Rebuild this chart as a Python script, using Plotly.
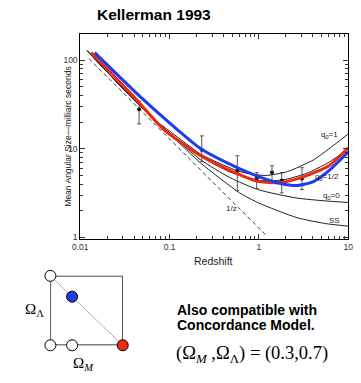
import plotly.graph_objects as go

# ---------------- data ----------------
# overlay model curves (redshift, mean angular size in milliarcsec)
red_z = [0.0132, 0.0422, 0.0847, 0.223, 0.506, 0.99, 1.75, 3.18, 6.07, 10.0]
red_t = [122, 36.3, 16.7, 8.35, 5.53, 4.27, 4.16, 4.86, 6.45, 10.3]
blue_z = [0.0145, 0.0502, 0.12, 0.223, 0.603, 0.99, 1.75, 2.67, 4.08, 6.07, 10.0]
blue_t = [122, 36.3, 16.7, 10.0, 5.97, 4.86, 4.06, 3.85, 4.27, 5.67, 9.25]

# original black model curves
q1_z = [0.0119, 0.0306, 0.0644, 0.1059, 0.223, 0.603, 1.18, 2.08, 4.08, 6.07, 10.0]
q1_t = [128, 47.0, 22.2, 15.2, 8.7, 5.55, 5.0, 5.53, 7.5, 10.0, 14.7]
qh_z = [0.0119, 0.0306, 0.0644, 0.1059, 0.223, 0.47, 0.99, 1.84, 3.43, 6.07, 10.0]
qh_t = [128, 47.0, 22.2, 14.5, 8.25, 5.5, 4.42, 4.45, 5.3, 7.05, 10.0]
q0_z = [0.0119, 0.0306, 0.0644, 0.1059, 0.223, 0.47, 0.99, 2.67, 5.63, 10.0]
q0_t = [128, 47.0, 22.2, 14.2, 7.5, 4.75, 3.45, 2.78, 2.58, 2.48]
ss_z = [0.0119, 0.0306, 0.0644, 0.1059, 0.223, 0.603, 0.99, 2.67, 5.63, 10.0]
ss_t = [128, 47.0, 22.2, 14.0, 6.9, 3.2, 2.45, 1.67, 1.43, 1.34]
inv_z = [0.0125, 1.2]
inv_t = [104, 1.06]

# binned observations with error bars
obs_z = [0.0455, 0.229, 0.573, 0.942, 1.40, 1.80, 3.03]
obs_t = [28.0, 9.75, 5.67, 4.61, 5.39, 4.38, 4.61]
obs_hi = [34.5, 14.0, 8.35, 5.39, 6.45, 5.39, 6.12]
obs_lo = [19.1, 7.15, 3.38, 3.56, 4.27, 3.19, 3.47]

x_tick_vals = [0.01, 0.1, 1, 10]
x_tick_text = ["0.01", "0.1", "1", "10"]
y_tick_vals = [1, 10, 100]
y_tick_text = ["1", "10", "100"]

# (Omega_M, Omega_Lambda) diagram
box_om = [0, 1, 1, 0, 0]
box_ol = [0, 0, 1, 1, 0]
flat_om = [0, 1]
flat_ol = [1, 0]
model_om = [0, 0, 0.3, 0.3, 1]
model_ol = [1, 0, 0, 0.7, 0]
model_fill = ["white", "white", "white", "#1f3fe0", "#f02a10"]

W, H = 361, 383
def PX(x):
    return x / W
def PY(y):
    return 1 - y / H

fig = go.Figure()

def curve(z, t, color, width, dash="solid"):
    fig.add_trace(go.Scatter(
        x=z, y=t, mode="lines",
        line=dict(color=color, width=width, dash=dash, shape="spline", smoothing=0.6),
        hoverinfo="skip", showlegend=False, xaxis="x", yaxis="y"))

curve(inv_z, inv_t, "#222", 0.9, dash="4px,3px")
for zz, tt in [(ss_z, ss_t), (q0_z, q0_t), (qh_z, qh_t), (q1_z, q1_t)]:
    curve(zz, tt, "#222", 1.0)

fig.add_trace(go.Scatter(
    x=obs_z, y=obs_t, mode="markers",
    marker=dict(color="#111", size=4),
    error_y=dict(type="data", symmetric=False,
                 array=[h - v for h, v in zip(obs_hi, obs_t)],
                 arrayminus=[v - l for l, v in zip(obs_lo, obs_t)],
                 color="#444", thickness=0.9, width=2),
    hoverinfo="skip", showlegend=False, xaxis="x", yaxis="y"))

curve(red_z, red_t, "#f0280c", 3)
curve(blue_z, blue_t, "#1d3cf0", 3)

# diagram
fig.add_trace(go.Scatter(x=flat_om, y=flat_ol, mode="lines",
                         line=dict(color="#b0b0b0", width=1),
                         hoverinfo="skip", showlegend=False, xaxis="x2", yaxis="y2"))
fig.add_trace(go.Scatter(x=box_om, y=box_ol, mode="lines",
                         line=dict(color="black", width=1.3),
                         hoverinfo="skip", showlegend=False, xaxis="x2", yaxis="y2"))
fig.add_trace(go.Scatter(x=model_om, y=model_ol, mode="markers",
                         marker=dict(size=11, color=model_fill,
                                     line=dict(color="black", width=1)),
                         cliponaxis=False,
                         hoverinfo="skip", showlegend=False, xaxis="x2", yaxis="y2"))

minor_x = [m * 10 ** e for e in (-2, -1, 0) for m in range(2, 10)]
minor_y = [m * 10 ** e for e in (0, 1, 2) for m in range(2, 10)]

tickfont = dict(family="Liberation Sans", size=8.5, color="#333")
axis_common = dict(type="log", showline=True, linecolor="black", linewidth=1,
                   mirror="allticks", ticks="inside", ticklen=5, tickcolor="#333",
                   showgrid=False, zeroline=False, tickfont=tickfont)

fig.update_layout(
    width=W, height=H,
    margin=dict(l=0, r=0, t=0, b=0),
    paper_bgcolor="white", plot_bgcolor="white",
    showlegend=False,
    xaxis=dict(axis_common, range=[-2, 1], domain=[PX(75), PX(353)], anchor="y",
               tickmode="array", tickvals=x_tick_vals, ticktext=x_tick_text,
               minor=dict(tickmode="array", tickvals=minor_x, ticks="inside",
                          ticklen=3, tickcolor="#333", showgrid=False)),
    yaxis=dict(axis_common, range=[-0.019, 2.299], domain=[PY(241), PY(34)], anchor="x",
               tickmode="array", tickvals=y_tick_vals, ticktext=y_tick_text,
               minor=dict(tickmode="array", tickvals=minor_y, ticks="inside",
                          ticklen=3, tickcolor="#333", showgrid=False)),
    xaxis2=dict(range=[0, 1], domain=[PX(44), PX(119)], anchor="y2", visible=False),
    yaxis2=dict(range=[0, 1], domain=[PY(348), PY(278)], anchor="x2", visible=False),
)

def ann(text, x, y, size, family="Liberation Sans", color="#222",
        xanchor="center", yanchor="middle", **kw):
    fig.add_annotation(text=text, x=PX(x), y=PY(y), xref="paper", yref="paper",
                       xanchor=xanchor, yanchor=yanchor,
                       showarrow=False, font=dict(family=family, size=size, color=color),
                       **kw)

ann("<b>Kellerman 1993</b>", 151, 15, 15.5, color="black")
ann("Mean Angular Size\u2014milliarc seconds", 62, 138, 8.5, textangle=-90)
ann("Redshift", 213, 263, 10.5)
ann("q<sub>0</sub>=1", 333, 136, 8)
ann("q<sub>0</sub>=1/2", 331, 178, 8)
ann("q<sub>0</sub>=0", 336, 198, 8)
ann("SS", 339, 222, 8)
ann("1/z", 232, 210, 8)

ann("\u03a9<sub>\u039b</sub>", 27, 312, 15, family="Liberation Serif", color="black")
ann("\u03a9<sub><i>M</i></sub>", 78, 367, 15, family="Liberation Serif", color="black")
ann("<b>Also compatible with</b>", 173, 312, 14, color="black", xanchor="left")
ann("<b>Concordance Model.</b>", 173, 328, 14, color="black", xanchor="left")
ann("(\u03a9<sub><i>M</i></sub> ,\u03a9<sub>\u039b</sub>) = (0.3,0.7)", 253.5, 357, 18.5,
    family="Liberation Serif", color="black")

fig.write_html("out.html", config={"displayModeBar": False},
               post_script="document.body.style.margin='0';document.body.style.padding='0';")
